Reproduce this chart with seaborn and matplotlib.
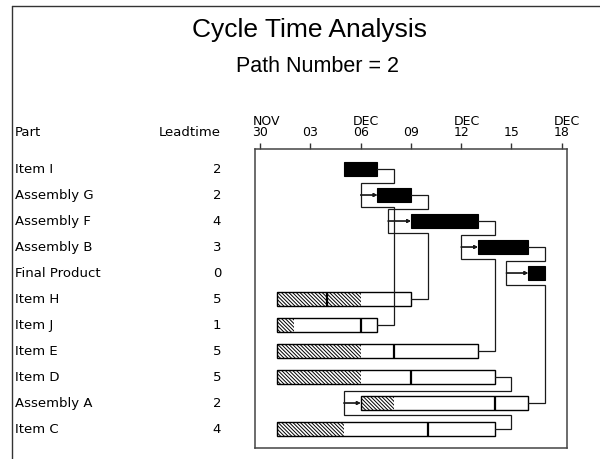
import matplotlib
matplotlib.use("Agg")
import matplotlib.pyplot as plt
import matplotlib.dates as mdates
from matplotlib.lines import Line2D
from matplotlib.transforms import blended_transform_factory
import pandas as pd
import seaborn as sns

# ---------------- data ----------------
parts = ["Item I", "Assembly G", "Assembly F", "Assembly B", "Final Product",
         "Item H", "Item J", "Item E", "Item D", "Assembly A", "Item C"]
leadtime = [2, 2, 4, 3, 0, 5, 1, 5, 5, 2, 4]
e_start = ["2000-12-05", "2000-12-07", "2000-12-09", "2000-12-13", "2000-12-16",
           "2000-12-01", "2000-12-01", "2000-12-01", "2000-12-01", "2000-12-06", "2000-12-01"]
e_finish = ["2000-12-07", "2000-12-09", "2000-12-13", "2000-12-16", "2000-12-17",
            "2000-12-06", "2000-12-02", "2000-12-06", "2000-12-06", "2000-12-08", "2000-12-05"]
l_start = ["2000-12-05", "2000-12-07", "2000-12-09", "2000-12-13", "2000-12-16",
           "2000-12-04", "2000-12-06", "2000-12-08", "2000-12-09", "2000-12-14", "2000-12-10"]
l_finish = ["2000-12-07", "2000-12-09", "2000-12-13", "2000-12-16", "2000-12-17",
            "2000-12-09", "2000-12-07", "2000-12-13", "2000-12-14", "2000-12-16", "2000-12-14"]

link_pred = ["Item I", "Item J", "Assembly G", "Item H", "Assembly F", "Item E",
             "Assembly B", "Assembly A", "Item D", "Item C"]
link_succ = ["Assembly G", "Assembly G", "Assembly F", "Assembly F", "Assembly B",
             "Assembly B", "Final Product", "Final Product", "Assembly A", "Assembly A"]
# how far (days) before the successor start the connector turns in
link_approach = [1.0, 1.0, 1.36, 1.36, 1.0, 1.0, 1.3, 1.3, 1.0, 1.0]

tick_dates = ["2000-11-30", "2000-12-03", "2000-12-06", "2000-12-09",
              "2000-12-12", "2000-12-15", "2000-12-18"]
tick_labels = ["30", "03", "06", "09", "12", "15", "18"]
month_dates = ["2000-11-30", "2000-12-06", "2000-12-12", "2000-12-18"]
month_labels = ["NOV", "DEC", "DEC", "DEC"]

title = "Cycle Time Analysis"
subtitle = "Path Number = 2"

# ---------------- style ----------------
sns.set_style("white")
plt.rcParams["font.family"] = ["DejaVu Sans"]
plt.rcParams["hatch.linewidth"] = 0.7
plt.rcParams["text.color"] = "black"
plt.rcParams["xtick.color"] = "black"
plt.rcParams["xtick.labelcolor"] = "black"

def dn(lst):
    return list(mdates.date2num(pd.to_datetime(lst)))

es, ef, ls, lf = dn(e_start), dn(e_finish), dn(l_start), dn(l_finish)
ticks = dn(tick_dates)
mdts = dn(month_dates)
row = {p: i for i, p in enumerate(parts)}

W, H = 600, 459
fig = plt.figure(figsize=(W / 100, H / 100), dpi=100)
ax = fig.add_axes([255 / W, 1 - 448 / H, 312 / W, 299 / H])

bh = 0.52
lc = "#1a1a1a"
for i in range(len(parts)):
    critical = (es[i] == ls[i]) and (ef[i] == lf[i])
    if critical:
        ax.barh(i, ef[i] - es[i], left=es[i], height=bh, color="black",
                edgecolor="black", linewidth=0.8, zorder=2)
    else:
        ax.barh(i, ef[i] - es[i], left=es[i], height=bh, color="white",
                edgecolor="black", hatch="\\" * 9, linewidth=0, zorder=2)
        ax.barh(i, lf[i] - es[i], left=es[i], height=bh, fill=False,
                edgecolor="black", linewidth=1.0, zorder=2.5)
        ax.vlines(ls[i], i - bh / 2, i + bh / 2, color="black", linewidth=1.6, zorder=2.6)

# connectors
for p, s, ap in zip(link_pred, link_succ, link_approach):
    pi, si = row[p], row[s]
    x0 = lf[pi]
    xr = x0 + 1.0
    yb = si - 0.45 if pi < si else si + 0.45
    xs = es[si]
    xa = xs - ap
    ax.plot([x0, xr, xr, xa, xa], [pi, pi, yb, yb, si], color=lc,
            linewidth=0.9, zorder=3, solid_joinstyle="miter")
    ax.annotate("", xy=(xs, si), xytext=(xa, si),
                arrowprops=dict(arrowstyle="-|>", mutation_scale=5, lw=0.9,
                                color=lc, shrinkA=0, shrinkB=0), zorder=3)

t0 = ticks[0]
ax.set_xlim(t0 - 0.30, t0 + 18.32)
ax.set_ylim(len(parts) - 1 + 0.73, -0.77)
ax.set_yticks([])
ax.set_xticks(ticks)
ax.set_xticklabels(tick_labels)
ax.xaxis.tick_top()
ax.tick_params(axis="x", direction="out", length=4, width=1, pad=3,
               labelsize=9, top=True, bottom=False, labeltop=True,
               labelbottom=False, color="#333333", labelcolor="black")
for sp in ax.spines.values():
    sp.set_color("#444444")
    sp.set_linewidth(1.1)

for d, m in zip(mdts, month_labels):
    ax.annotate(m, xy=(d, 1), xycoords=("data", "axes fraction"),
                xytext=(-5.5, 20), textcoords="offset points",
                ha="left", va="center", fontsize=9, color="black")

# table labels
tr = blended_transform_factory(fig.transFigure, ax.transData)
for i, (p, lt) in enumerate(zip(parts, leadtime)):
    ax.text(15 / W, i, p, transform=tr, ha="left", va="center", fontsize=9.5, color="black")
    ax.text(221 / W, i, str(lt), transform=tr, ha="right", va="center", fontsize=9.5, color="black")
fig.text(15 / W, 1 - 133 / H, "Part", ha="left", va="center", fontsize=9.5, color="black")
fig.text(221 / W, 1 - 133 / H, "Leadtime", ha="right", va="center", fontsize=9.5, color="black")

# titles
fig.text(309 / W, 1 - 30 / H, title, ha="center", va="center", fontsize=19,
         family=["Liberation Sans", "DejaVu Sans"], color="black")
fig.text(317 / W, 1 - 67 / H, subtitle, ha="center", va="center", fontsize=15.5,
         family=["Liberation Sans", "DejaVu Sans"], color="black")

# outer border (top/left)
fig.add_artist(Line2D([11.5 / W, 11.5 / W], [0, 1 - 6 / H], transform=fig.transFigure,
                      color="#333333", linewidth=1.0))
fig.add_artist(Line2D([11.5 / W, 1.0], [1 - 6 / H, 1 - 6 / H], transform=fig.transFigure,
                      color="#333333", linewidth=1.0))

fig.savefig("out.png", dpi=100)
